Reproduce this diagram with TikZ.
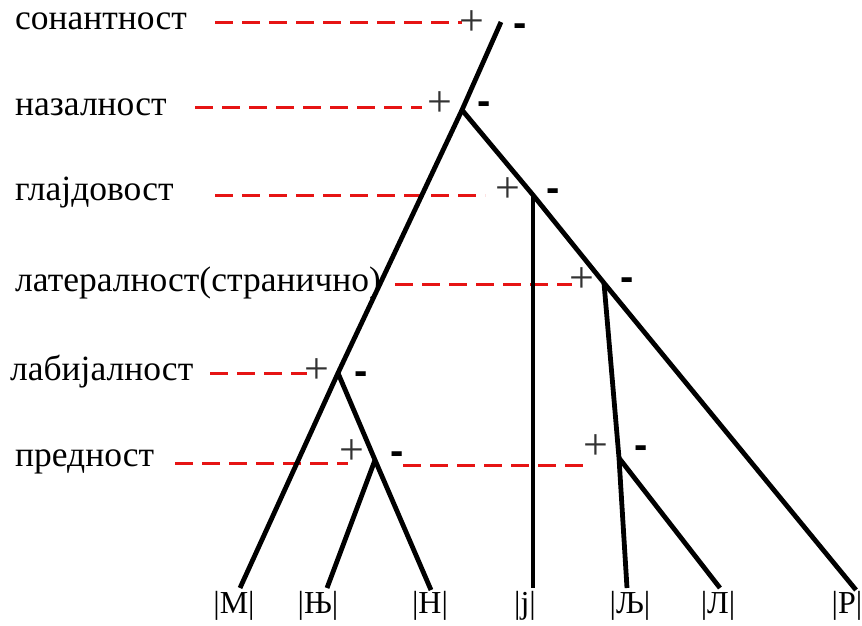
\documentclass[tikz,border=0pt]{standalone}
\usepackage{fontspec}
\setmainfont{Liberation Serif}
\newfontfamily\minusfont{Liberation Sans}
\definecolor{dashred}{RGB}{230,20,20}
\definecolor{plusgray}{RGB}{50,50,50}
\begin{document}
\begin{tikzpicture}[x=1pt,y=-1pt,
  feat/.style={anchor=west,inner sep=0pt,font=\fontsize{35.5}{38}\selectfont},
  leaf/.style={inner sep=0pt,font=\fontsize{32}{34}\selectfont},
  pl/.style={inner sep=0pt,text=plusgray,font=\fontsize{44}{46}\selectfont},
  mi/.style={inner sep=0pt,font=\minusfont\bfseries\fontsize{40}{42}\selectfont},
  branch/.style={line width=4.8pt,black},
  guide/.style={dashred,line width=3pt,dash pattern=on 18pt off 9pt}]
\useasboundingbox (0,0) rectangle (862,625);
% feature labels
\node[feat] (f1) at (15,21) {сонантност};
\node[feat] (f2) at (15,107) {назалност};
\node[feat] (f3) at (15,193) {глајдовост};
\node[feat] (f4) at (15,283) {латералност(странично)};
\node[feat] (f5) at (10,372) {лабијалност};
\node[feat] (f6) at (15,462) {предност};
% tree points
\coordinate (top) at (501,22);
\coordinate (nas) at (462,110);
\coordinate (gli) at (533,195);
\coordinate (lat) at (604,283);
\coordinate (lab) at (338,373);
\coordinate (prl) at (375,460);
\coordinate (prr) at (619,458);
% leaves
\node[leaf] (m) at (234,606) {|М|};
\node[leaf] (nj) at (318,606) {|Њ|};
\node[leaf] (n) at (430,606) {|Н|};
\node[leaf] (j) at (525,606) {|ј|};
\node[leaf] (lj) at (630,606) {|Љ|};
\node[leaf] (l) at (718,606) {|Л|};
\node[leaf] (r) at (847,606) {|Р|};
\coordinate (em) at (240,588);
\coordinate (enj) at (327,588);
\coordinate (en) at (431,590);
\coordinate (ej) at (533,588);
\coordinate (elj) at (627,588);
\coordinate (el) at (720,588);
\coordinate (er) at (856,590);
% dashed guides
\coordinate (d1a) at (215,22); \coordinate (d1b) at (462,22);
\coordinate (d2a) at (195,107); \coordinate (d2b) at (422,107);
\coordinate (d3a) at (215,195); \coordinate (d3b) at (485,195);
\coordinate (d4a) at (395,284); \coordinate (d4b) at (572,284);
\coordinate (d5a) at (210,373); \coordinate (d5b) at (307,373);
\coordinate (d6a) at (175,463); \coordinate (d6b) at (348,463);
\coordinate (d7a) at (403,465); \coordinate (d7b) at (590,465);
\draw[guide] (d1a) -- (d1b);
\draw[guide] (d2a) -- (d2b);
\draw[guide] (d3a) -- (d3b);
\draw[guide] (d4a) -- (d4b);
\draw[guide] (d5a) -- (d5b);
\draw[guide] (d6a) -- (d6b);
\draw[guide] (d7a) -- (d7b);
% branches
\draw[branch] (top) -- (nas) -- (lab) -- (em);
\draw[branch] (nas) -- (gli) -- (lat) -- (er);
\draw[branch] (gli) -- (ej);
\draw[branch] (lat) -- (prr) -- (elj);
\draw[branch] (prr) -- (el);
\draw[branch] (lab) -- (prl) -- (en);
\draw[branch] (prl) -- (enj);
% plus / minus
\node[pl] (p1) at (472,23) {+}; \node[mi] (m1) at (520,30) {-};
\node[pl] (p2) at (440,104) {+}; \node[mi] (m2) at (484,108) {-};
\node[pl] (p3) at (508,190) {+}; \node[mi] (m3) at (553,195) {-};
\node[pl] (p4) at (582,280) {+}; \node[mi] (m4) at (627,284) {-};
\node[pl] (p5) at (317,371) {+}; \node[mi] (m5) at (361,378) {-};
\node[pl] (p6) at (352,452) {+}; \node[mi] (m6) at (397,458) {-};
\node[pl] (p7) at (596,447) {+}; \node[mi] (m7) at (641,452) {-};
\end{tikzpicture}
\end{document}
